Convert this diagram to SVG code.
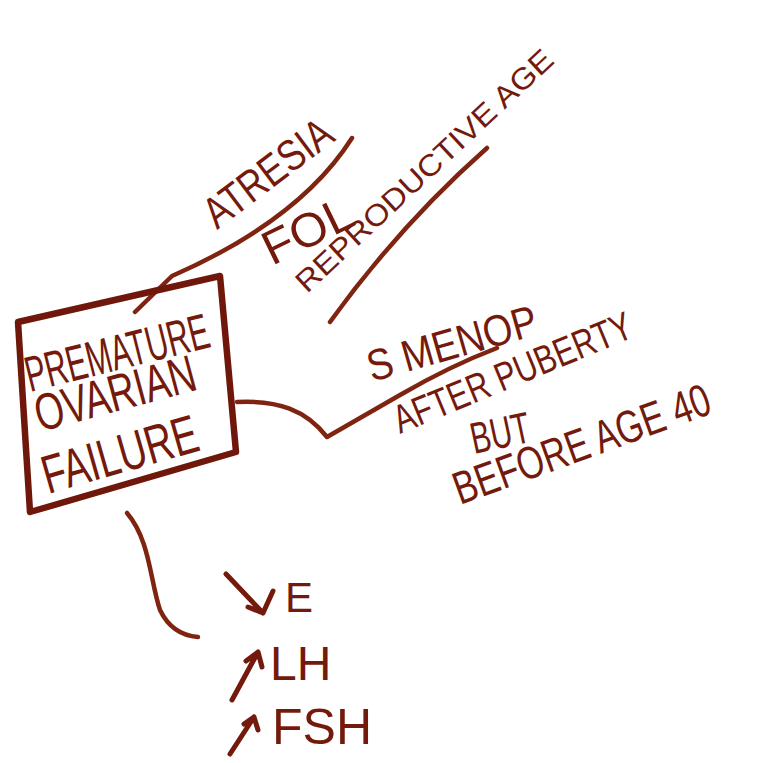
<svg xmlns="http://www.w3.org/2000/svg" width="759" height="763" viewBox="0 0 759 763">
<style>
.t{font-family:"Liberation Sans","DejaVu Sans",sans-serif;fill:#741a0c;}
.ln{fill:none;stroke:#7e2410;stroke-width:4.5;stroke-linecap:round;stroke-linejoin:round;}
.box{fill:none;stroke:#6e170a;stroke-width:6.5;stroke-linejoin:round;stroke-linecap:round;}
.ar{fill:none;stroke:#741a0c;stroke-width:5;stroke-linecap:round;stroke-linejoin:round;}
</style>
<rect width="759" height="763" fill="#ffffff"/>
<g id="connectors">
<path class="ln" d="M135,312 L172,276 Q300,220 352,138"/>
<path class="ln" d="M330,322 Q400,225 487,148"/>
<path class="ln" d="M237,402 C278,400 306,410 327,437 L400,395 Q450,366 497,348"/>
<path class="ln" d="M127,513 C150,540 150,580 160,610 Q172,635 198,637"/>
</g>
<g id="pof">
<path class="box" d="M18,322 L220,276 L236,452 L30,512 Z"/>
<text class="t" font-size="50" transform="translate(30,392) rotate(-14)" textLength="188" lengthAdjust="spacingAndGlyphs">PREMATURE</text>
<text class="t" font-size="52" transform="translate(40,432) rotate(-15)" textLength="165" lengthAdjust="spacingAndGlyphs">OVARIAN</text>
<text class="t" font-size="54" transform="translate(48,494) rotate(-16)" textLength="160" lengthAdjust="spacingAndGlyphs">FAILURE</text>
</g>
<g id="atresia">
<text class="t" font-size="44" transform="translate(217,230) rotate(-37)" textLength="150" lengthAdjust="spacingAndGlyphs">ATRESIA</text>
</g>
<g id="fol">
<text class="t" font-size="48" transform="translate(272,266) rotate(-26)" textLength="95" lengthAdjust="spacingAndGlyphs">FOL</text>
</g>
<g id="reproductive-age">
<text class="t" font-size="30" transform="translate(307,294) rotate(-43)" textLength="340" lengthAdjust="spacingAndGlyphs">REPRODUCTIVE AGE</text>
</g>
<g id="s-menop">
<text class="t" font-size="44" transform="translate(372,382) rotate(-16)" textLength="175" lengthAdjust="spacingAndGlyphs">S MENOP</text>
</g>
<g id="after-puberty">
<text class="t" font-size="40" transform="translate(400,434) rotate(-22.5)" textLength="255" lengthAdjust="spacingAndGlyphs">AFTER PUBERTY</text>
<text class="t" font-size="44" transform="translate(474,454) rotate(-12)" textLength="60" lengthAdjust="spacingAndGlyphs">BUT</text>
<text class="t" font-size="46" transform="translate(460,505) rotate(-20) scale(0.75,1)">BEFORE AGE 40</text>
</g>
<g id="hormones">
<path class="ar" d="M226,574 L263,613 M248,607 L263,613 L273,591"/>
<text class="t" font-size="42" x="285" y="612">E</text>
<path class="ar" d="M232,700 L258,652 M246,661 L258,652 L262,667"/>
<text class="t" font-size="48" x="270" y="680">LH</text>
<path class="ar" d="M230,754 L254,717 M244,724 L254,717 L258,730"/>
<text class="t" font-size="50" x="272" y="744">FSH</text>
</g>
</svg>
